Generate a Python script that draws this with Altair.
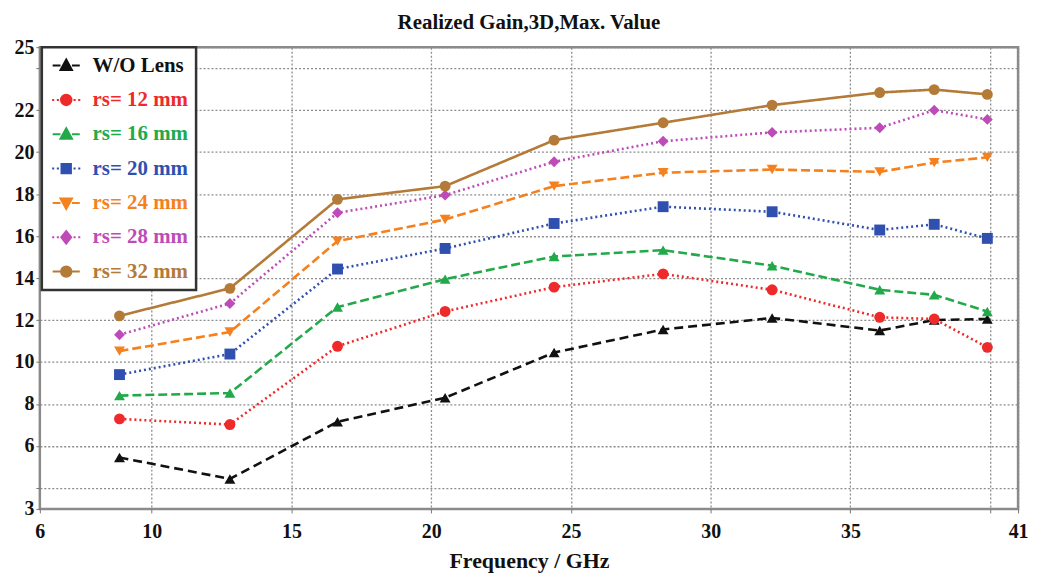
import altair as alt
import pandas as pd
import json

# ---- data ----
series = ["W/O Lens", "rs= 12 mm", "rs= 16 mm", "rs= 20 mm", "rs= 24 mm", "rs= 28 mm", "rs= 32 mm"]
freq = [8.85, 12.8, 16.65, 20.5, 24.4, 28.3, 32.2, 36.05, 38.0, 39.9]
g_wo = [5.45, 4.43, 7.15, 8.3, 10.45, 11.55, 12.1, 11.5, 12.0, 12.05]
g_12 = [7.29, 7.02, 10.75, 12.41, 13.57, 14.2, 13.44, 12.13, 12.05, 10.7]
g_16 = [8.4, 8.52, 12.62, 13.95, 15.03, 15.33, 14.59, 13.44, 13.2, 12.41]
g_20 = [9.4, 10.38, 14.43, 15.41, 16.6, 17.4, 17.16, 16.29, 16.56, 15.89]
g_24 = [10.52, 11.43, 15.76, 16.79, 18.38, 19.02, 19.17, 19.06, 19.5, 19.75]
g_28 = [11.3, 12.79, 17.11, 17.95, 19.54, 20.52, 20.94, 21.16, 22.0, 21.56]
g_32 = [12.2, 13.51, 17.75, 18.38, 20.57, 21.4, 22.24, 22.84, 22.98, 22.75]
gains = [g_wo, g_12, g_16, g_20, g_24, g_28, g_32]

x_ticks = [6, 10, 15, 20, 25, 30, 35, 40, 41]
y_ticks = [3, 4, 6, 8, 10, 12, 14, 16, 18, 20, 22, 24, 25]

# ---- styles ----
colors = ["#111111", "#EE2A2A", "#22AA4A", "#3050B0", "#F5801E", "#BE4CB8", "#B47A38"]
dashes = [[9, 5], [2, 3], [9, 4], [2, 3], [9, 4], [2, 3], [1, 0]]
shapes = ["triangle-up", "circle", "triangle-up", "square", "triangle-down", "diamond", "circle"]

circ = "M1,0A1,1 0 1,1 -1,0A1,1 0 1,1 1,0Z"
tri_up = "M0,-1.15L1.1,0.85L-1.1,0.85Z"
tri_dn = "M0,1.15L1.1,-0.85L-1.1,-0.85Z"
sq = "M-0.9,-0.9H0.9V0.9H-0.9Z"
dia = "M0,-1.2L0.95,0L0,1.2L-0.95,0Z"
solid_stub = "M-2.6,0H-1.1M1.1,0H2.6"
dot_stub = "M-2.7,0H-2.3M-1.8,0H-1.4M1.4,0H1.8M2.3,0H2.7"
legend_paths = [
    solid_stub + tri_up,
    dot_stub + circ,
    solid_stub + tri_up,
    dot_stub + sq,
    solid_stub + tri_dn,
    dot_stub + dia,
    solid_stub + circ,
]

rows = []
for s, g in zip(series, gains):
    for f, v in zip(freq, g):
        rows.append({"series": s, "freq": f, "gain": v})
df = pd.DataFrame(rows)

FONT = "Liberation Serif, Times New Roman, DejaVu Serif, serif"

x_enc = alt.X(
    "freq:Q",
    scale=alt.Scale(domain=[6, 41], nice=False, zero=False),
    axis=alt.Axis(
        values=x_ticks,
        labelExpr="datum.value == 40 ? '' : datum.label",
        title="Frequency / GHz",
    ),
)
y_enc = alt.Y(
    "gain:Q",
    scale=alt.Scale(domain=[3, 25], nice=False, zero=False),
    axis=alt.Axis(
        values=y_ticks,
        labelExpr="(datum.value == 4 || datum.value == 24) ? '' : datum.label",
        title=None,
    ),
)

lines = alt.Chart(df).mark_line(strokeWidth=2.6).encode(
    x=x_enc,
    y=y_enc,
    stroke=alt.Stroke("series:N", scale=alt.Scale(domain=series, range=colors), legend=None),
    strokeDash=alt.StrokeDash("series:N", scale=alt.Scale(domain=series, range=dashes), legend=None),
)

points = alt.Chart(df).mark_point(filled=True, size=120, opacity=1).encode(
    x=x_enc,
    y=y_enc,
    color=alt.Color("series:N", scale=alt.Scale(domain=series, range=colors), legend=None),
    shape=alt.Shape("series:N", scale=alt.Scale(domain=series, range=shapes), legend=None),
)

names_js = json.dumps(series).replace('"', "'")
colors_js = json.dumps(colors).replace('"', "'")
color_expr = f"{colors_js}[indexof({names_js}, datum.value)]"

leg = alt.Legend(
    title=None,
    orient="none",
    legendX=2,
    legendY=0,
    labelFont=FONT,
    labelFontSize=21,
    labelFontWeight="bold",
    labelColor=alt.ExprRef(color_expr),
    symbolSize=110,
    symbolStrokeWidth=2,
    symbolOpacity=1,
    symbolOffset=6,
    labelOffset=16,
    rowPadding=12.5,
    padding=8,
    strokeColor="#333333",
    fillColor="white",
)

# legend-only layer (no marks drawn: filtered to nothing, legend from explicit scale domains)
legend_layer = (
    alt.Chart(df)
    .transform_filter("datum.gain < -1000")
    .mark_point(filled=True, size=110, strokeWidth=2)
    .encode(
        x=x_enc,
        y=y_enc,
        color=alt.Color("series:N", scale=alt.Scale(domain=series, range=colors), legend=leg),
        stroke=alt.Stroke("series:N", scale=alt.Scale(domain=series, range=colors), legend=leg),
        shape=alt.Shape("series:N", scale=alt.Scale(domain=series, range=legend_paths), legend=leg),
    )
)

chart = (
    alt.layer(lines, points, legend_layer)
    .resolve_scale(color="independent", shape="independent", stroke="independent")
    .properties(
        width=983,
        height=464,
        autosize=alt.AutoSizeParams(type="none"),
        padding={"left": 32, "top": 38, "right": 16, "bottom": 64},
        title=alt.TitleParams(
            "Realized Gain,3D,Max. Value",
            font=FONT,
            fontSize=21,
            fontWeight="bold",
            color="#111111",
            anchor="middle",
            offset=4,
        ),
    )
    .configure_view(stroke="#8a8a8a", strokeWidth=2.5)
    .configure_axis(
        domain=False,
        grid=True,
        gridColor="#8c8c8c",
        gridDash=[2, 2],
        gridWidth=1.3,
        ticks=True,
        tickSize=4,
        tickColor="#777777",
        labelFont=FONT,
        labelFontSize=20,
        labelFontWeight="bold",
        labelColor="#111111",
        titleFont=FONT,
        titleFontSize=22,
        titleFontWeight="bold",
        titleColor="#111111",
    )
    .configure_axisX(labelPadding=9, titlePadding=9, labelFlush=False)
    .configure_axisY(labelPadding=2)
    .configure_legend(strokeWidth=2.5)
)

chart.save("out.html", embed_options={"renderer": "svg", "actions": False})
